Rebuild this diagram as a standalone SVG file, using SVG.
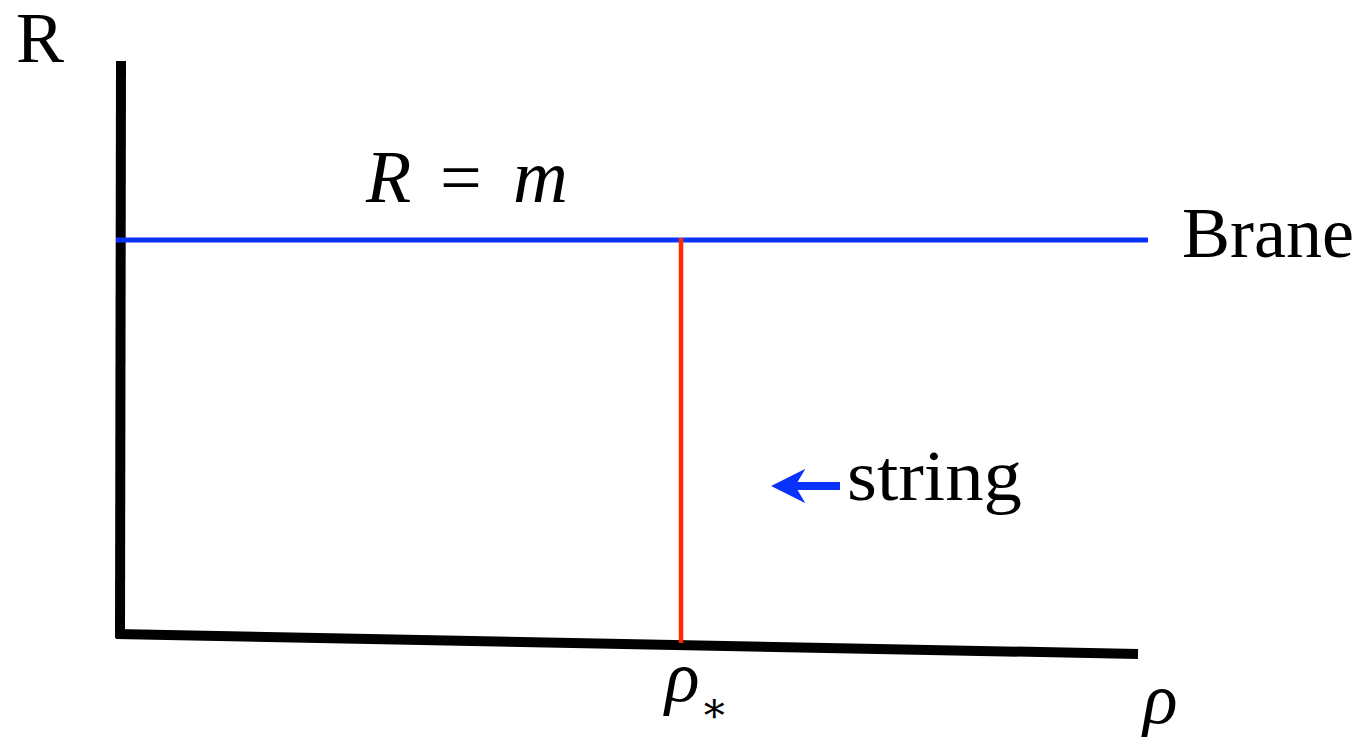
<svg xmlns="http://www.w3.org/2000/svg" width="1369" height="737" viewBox="0 0 1369 737">
<defs>
<marker id="ah" viewBox="0 0 10 10" refX="4.5" refY="5" markerWidth="4.3" markerHeight="4.3" markerUnits="strokeWidth" orient="auto">
<path d="M0,0 L10,5 L0,10 L3,5 Z" fill="#0a32ff"/>
</marker>
</defs>
<rect width="1369" height="737" fill="#fff"/>
<g id="axes">
<line x1="121" y1="61" x2="120" y2="638" stroke="#000" stroke-width="10"/>
<line x1="116" y1="634" x2="1138" y2="654" stroke="#000" stroke-width="10"/>
</g>
<g id="connectors">
<line x1="116" y1="240" x2="1148" y2="240" stroke="#0a32ff" stroke-width="5"/>
<line x1="681" y1="238" x2="681" y2="643" stroke="#ff2a00" stroke-width="4.5"/>
<line x1="840" y1="486" x2="790" y2="486" stroke="#0a32ff" stroke-width="8" marker-end="url(#ah)"/>
</g>
<g id="labels" font-family="Liberation Serif, Times New Roman, DejaVu Serif, serif" fill="#000">
<text x="16" y="62" font-size="72">R</text>
<text x="366" y="202" font-size="74" font-style="italic">R</text>
<text x="440" y="202" font-size="74">=</text>
<text x="513" y="202" font-size="76" font-style="italic">m</text>
<text x="1182" y="257" font-size="72">Brane</text>
<text x="847" y="500" font-size="72" textLength="175" lengthAdjust="spacingAndGlyphs">string</text>
<text x="665" y="701" font-size="72" font-style="italic">ρ</text>
<text x="700" y="722" font-size="42">∗</text>
<text x="1143" y="723" font-size="72" font-style="italic">ρ</text>
</g>
</svg>
